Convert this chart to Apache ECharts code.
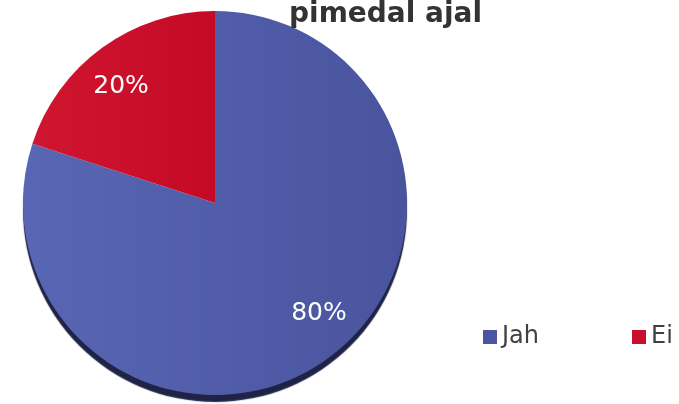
<!DOCTYPE html>
<html>
<head>
<meta charset="utf-8">
<script src="https://cdn.jsdelivr.net/npm/echarts@6/dist/echarts.min.js"></script>
<style>
  html, body { margin: 0; padding: 0; background: #fff; }
  #chart { width: 679px; height: 404px; }
</style>
</head>
<body>
<div id="chart"></div>
<script>
// andmed
var categories = ['Jah', 'Ei'];
var values = [80, 20];
var titleText = 'pimedal ajal';

var cx = 215, cy = 203;

function grad(light, dark) {
  return new echarts.graphic.LinearGradient(0, 0, 1, 0, [
    { offset: 0, color: light },
    { offset: 1, color: dark }
  ]);
}
var colors = [grad('#5866b4', '#4a549e'), grad('#d01530', '#c40a26')];
var legendColors = ['#4a56a4', '#c8102e'];

var chart = echarts.init(document.getElementById('chart'));
chart.setOption({
  animation: false,
  title: {
    text: titleText,
    left: 284,
    top: -4,
    textStyle: { fontFamily: 'DejaVu Sans', fontSize: 28, fontWeight: 'bold', color: '#333333' }
  },
  legend: {
    data: categories.map(function (c, i) {
      return { name: c, itemStyle: { color: legendColors[i] } };
    }),
    left: 483,
    top: 325,
    width: 300,
    padding: 0,
    icon: 'rect',
    itemWidth: 14,
    itemHeight: 14,
    itemGap: 93,
    textStyle: { fontFamily: 'DejaVu Sans', fontSize: 24, color: '#404040' }
  },
  series: [{
    type: 'pie',
    center: [cx, cy],
    radius: [0, 192],
    startAngle: 90,
    clockwise: true,
    silent: true,
    data: categories.map(function (c, i) {
      var st = { color: colors[i] };
      if (i === 0) {
        // tume serv all
        st.shadowColor = '#1f2447';
        st.shadowBlur = 1;
        st.shadowOffsetY = 7;
      }
      return { name: c, value: values[i], itemStyle: st };
    }),
    label: {
      show: true,
      position: 'inside',
      formatter: '{d}%',
      fontFamily: 'DejaVu Sans',
      fontSize: 25,
      color: '#ffffff'
    },
    labelLine: { show: false },
    labelLayout: function (params) {
      var r = params.labelRect;
      var lx = r.x + r.width / 2, ly = r.y + r.height / 2;
      return {
        x: cx + (lx - cx) * 1.7 + 5,
        y: cy + (ly - cy) * 1.42 - 3
      };
    }
  }]
});
</script>
</body>
</html>
